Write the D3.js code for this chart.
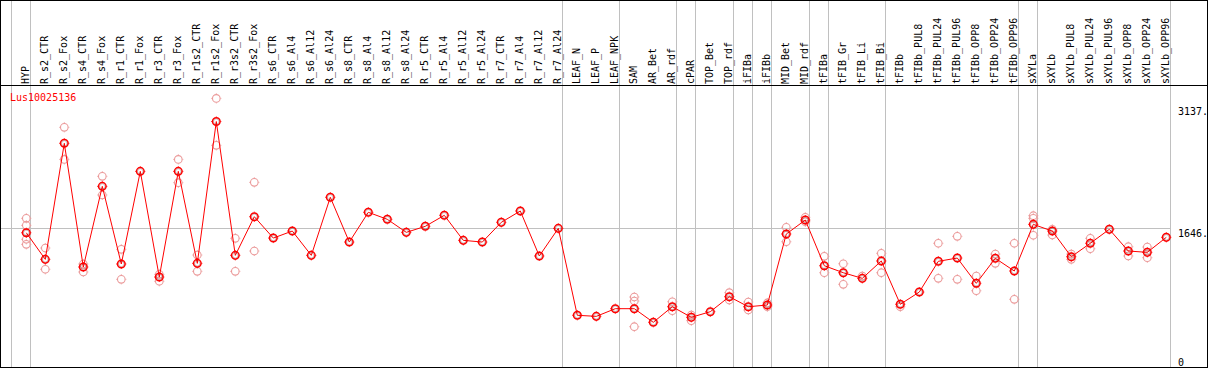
<!DOCTYPE html>
<html>
<head>
<meta charset="utf-8">
<script src="https://cdn.jsdelivr.net/npm/d3@7/dist/d3.min.js"></script>
<style>
body{margin:0;background:#fff;}
svg{display:block;}
text{font-family:"DejaVu Sans Mono",monospace;font-size:10px;}
</style>
</head>
<body>
<svg width="1209" height="370"></svg>
<script>
// samples (columns)
var samples = ["HYP","R_s2_CTR","R_s2_Fox","R_s4_CTR","R_s4_Fox","R_r1_CTR","R_r1_Fox","R_r3_CTR","R_r3_Fox",
  "R_r1s2_CTR","R_r1s2_Fox","R_r3s2_CTR","R_r3s2_Fox","R_s6_CTR","R_s6_Al4","R_s6_Al12","R_s6_Al24",
  "R_s8_CTR","R_s8_Al4","R_s8_Al12","R_s8_Al24","R_r5_CTR","R_r5_Al4","R_r5_Al12","R_r5_Al24",
  "R_r7_CTR","R_r7_Al4","R_r7_Al12","R_r7_Al24","LEAF_N","LEAF_P","LEAF_NPK","SAM","AR_Bet","AR_rdf",
  "cPAR","TOP_Bet","TOP_rdf","iFIBa","iFIBb","MID_Bet","MID_rdf","tFIBa","tFIB_Gr","tFIB_Li","tFIB_Bi",
  "tFIBb","tFIBb_PUL8","tFIBb_PUL24","tFIBb_PUL96","tFIBb_OPP8","tFIBb_OPP24","tFIBb_OPP96",
  "sXYLa","sXYLb","sXYLb_PUL8","sXYLb_PUL24","sXYLb_PUL96","sXYLb_OPP8","sXYLb_OPP24","sXYLb_OPP96"];

// mean expression per sample
var means = [1591,1265,2688,1171,2160,1208,2344,1048,2344,1216,2955,1314,1788,1526,1612,1314,2026,
  1477,1842,1756,1596,1670,1805,1498,1477,1719,1858,1306,1645,579,566,660,660,493,684,554,623,807,
  684,705,1576,1747,1187,1101,1032,1245,714,864,1241,1281,971,1278,1122,1694,1612,1297,1462,1633,
  1367,1351,1535];

// replicate values per sample
var reps = [[1768,1682,1511,1449],[1404,1143],[2884,2491],[1208,1110],[2283,2054],[1388,1020],[],
  [1081,996],[2491,2205],[1318,1118],[3239,2663],[1523,1118],[2209,1367],[],[],[],[],
  [],[],[],[],[],[],[],[],[],[],[],[],[],[],[],[803,754,439],[],[745,635],[582,513],[],[856,766],
  [742,644],[730,684],[1658,1481],[1780,1726],[1302,1101],[1211,959],[1061],[1339,1101],[684],[],
  [1462,1032],[1547,1020],[1061,880],[1330,1216],[1462,775],[1800,1768,1560],[1633,1563],[1330,1265],
  [1523,1395],[],[1420,1306],[1416,1285],[]];

// group separators sit before these samples (last one = end)
var groupStarts = ["HYP","R_s2_CTR","LEAF_N","SAM","cPAR","TOP_Bet","iFIBa","iFIBb","MID_Bet",
  "tFIBa","tFIB_Gr","tFIBb","sXYLa","sXYLb"];

var yTicks = [0,1646,3137];
var yTickLabels = ["0","1646.","3137."];
var geneName = "Lus10025136";

var headerY = 85.5, bottom = 367.5, right = 1207.5;
var svg = d3.select("svg");

var x = d3.scalePoint().domain(samples).range([26.3, 1166.3]);
var y = d3.scaleLinear().domain([0, 3137]).range([362.5, 106.7]);

var grey = "#c0c0c0", red = "#ff0000", pink = "#eb9a9a";

// horizontal grid line
svg.append("line")
   .attr("x1",0).attr("x2",1170.5)
   .attr("y1",Math.round(y(1646))+0.5).attr("y2",Math.round(y(1646))+0.5)
   .attr("stroke",grey).attr("stroke-width",1);

// separators
var sepX = groupStarts.map(function(s){return x(s)-15;});
sepX.push(x(samples[samples.length-1])+4);
svg.selectAll(".sep").data(sepX).enter().append("line")
   .attr("class","sep")
   .attr("x1",function(d){return Math.round(d)+0.5;})
   .attr("x2",function(d){return Math.round(d)+0.5;})
   .attr("y1",0).attr("y2",bottom)
   .attr("stroke",grey).attr("stroke-width",1);

// frame + header line
svg.append("rect").attr("x",0.5).attr("y",0.5).attr("width",right-0.5).attr("height",bottom-0.5)
   .attr("fill","none").attr("stroke","black").attr("stroke-width",1);
svg.append("line").attr("x1",0).attr("x2",right).attr("y1",headerY).attr("y2",headerY)
   .attr("stroke","black").attr("stroke-width",1);

// sample labels
svg.selectAll(".lab").data(samples).enter().append("text")
   .attr("class","lab")
   .attr("transform",function(d){return "translate("+(Math.round(x(d)+3)+0.2)+",84) rotate(-90)";})
   .attr("fill","black")
   .text(function(d){return d;});

// y tick labels
svg.selectAll(".yl").data(yTicks).enter().append("text")
   .attr("class","yl")
   .attr("x",1178)
   .attr("y",function(d){return d===0 ? 366 : y(d)+8.5;})
   .attr("fill","black")
   .text(function(d,i){return yTickLabels[i];});

// gene name
svg.append("text").attr("x",10).attr("y",101).attr("fill",red).text(geneName);

function marker(g, cx, cy, color, main){
  var m = g.append("g").attr("transform","translate("+cx+","+cy+")");
  m.append("circle").attr("r",3.8).attr("fill","none").attr("stroke",color).attr("stroke-width",main?1.5:1.1);
  [[0,-1],[0,1],[-1,0],[1,0]].forEach(function(v){
    m.append("line").attr("x1",v[0]*4.2).attr("y1",v[1]*4.2).attr("x2",v[0]*5).attr("y2",v[1]*5)
     .attr("stroke",color).attr("stroke-width",1);
  });
  if(main){
    m.append("circle").attr("r",2.7).attr("fill","none").attr("stroke","#400").attr("stroke-width",0.5).attr("opacity",0.5);
  }
}

// replicates
var repG = svg.append("g");
samples.forEach(function(s,i){
  reps[i].forEach(function(v){ marker(repG, x(s), y(v), pink, false); });
});

// mean line
var line = d3.line().x(function(d,i){return x(samples[i]);}).y(function(d){return y(d);});
svg.append("path").datum(means).attr("d",line)
   .attr("fill","none").attr("stroke",red).attr("stroke-width",1);

var mainG = svg.append("g");
means.forEach(function(v,i){ marker(mainG, x(samples[i]), y(v), red, true); });
</script>
</body>
</html>
